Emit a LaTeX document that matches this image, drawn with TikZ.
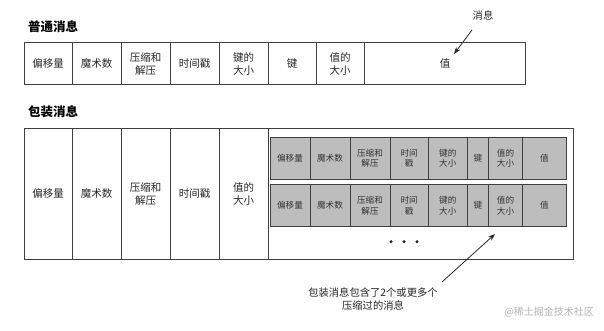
\documentclass[tikz,border=0pt]{standalone}
\usepackage{fontspec}
\setmainfont{Noto Sans CJK SC}
\usetikzlibrary{arrows.meta}
\tikzset{
  cell/.style={draw=black!75, line width=1pt, inner sep=0pt, align=center, font=\fontsize{10.5}{12.5}\selectfont, text=black!85},
  icell/.style={draw=black!75, line width=1pt, fill=black!26, inner sep=0pt, align=center, font=\fontsize{8.6}{10.5}\selectfont, text=black!80},
  title/.style={font=\fontsize{12.5}{14}\selectfont\bfseries, anchor=west, inner sep=0pt},
  note/.style={font=\fontsize{10.3}{13}\selectfont, align=center, inner sep=0pt, text=black!85},
  arr/.style={-{Stealth[length=7pt,width=5pt]}, line width=0.8pt, black!85}
}
\begin{document}
\begin{tikzpicture}[x=1pt,y=-1pt]
\useasboundingbox (0,0) rectangle (604,331);
% normal message
\node[title] (t1) at (28,27) {普通消息};
\node[cell, minimum width=48pt, minimum height=42pt] (a1) at (48,64) {偏移量};
\node[cell, minimum width=49pt, minimum height=42pt] (a2) at (96.5,64) {魔术数};
\node[cell, minimum width=49pt, minimum height=42pt] (a3) at (145.5,64) {压缩和\\解压};
\node[cell, minimum width=49pt, minimum height=42pt] (a4) at (194.5,64) {时间戳};
\node[cell, minimum width=49pt, minimum height=42pt] (a5) at (243.5,64) {键的\\大小};
\node[cell, minimum width=48pt, minimum height=42pt] (a6) at (292,64) {键};
\node[cell, minimum width=48pt, minimum height=42pt] (a7) at (340,64) {值的\\大小};
\node[cell, minimum width=161pt, minimum height=42pt] (a8) at (445,64) {值};
\node[note] (l1) at (483,16) {消息};
\coordinate (p1) at (472,30);
\coordinate (p2) at (454,54);
\draw[arr] (p1) -- (p2);
% wrapper message
\node[title] (t2) at (28,112) {包装消息};
\node[cell, minimum width=48pt, minimum height=130pt] (b1) at (48,194) {偏移量};
\node[cell, minimum width=49pt, minimum height=130pt] (b2) at (96.5,194) {魔术数};
\node[cell, minimum width=49pt, minimum height=130pt] (b3) at (145.5,194) {压缩和\\解压};
\node[cell, minimum width=49pt, minimum height=130pt] (b4) at (194.5,194) {时间戳};
\node[cell, minimum width=49pt, minimum height=130pt] (b5) at (243.5,194) {值的\\大小};
\node[cell, minimum width=305pt, minimum height=130pt] (b6) at (420.5,194) {};
% inner rows
\foreach \r/\yc in {1/158.3, 2/205.5}{
  \node[icell, minimum width=40pt, minimum height=42pt] (c\r1) at (290,\yc) {偏移量};
  \node[icell, minimum width=40pt, minimum height=42pt] (c\r2) at (330,\yc) {魔术数};
  \node[icell, minimum width=40pt, minimum height=42pt] (c\r3) at (370,\yc) {压缩和\\解压};
  \node[icell, minimum width=38.3pt, minimum height=42pt] (c\r4) at (409.15,\yc) {时间\\戳};
  \node[icell, minimum width=39pt, minimum height=42pt] (c\r5) at (447.8,\yc) {键的\\大小};
  \node[icell, minimum width=21.4pt, minimum height=42pt] (c\r6) at (478,\yc) {键};
  \node[icell, minimum width=33.6pt, minimum height=42pt] (c\r7) at (505.5,\yc) {值的\\大小};
  \node[icell, minimum width=44.4pt, minimum height=42pt] (c\r8) at (544.5,\yc) {值};
}
\foreach \x in {391,404,417}{
  \fill[black!85] (\x,241.7) circle (1.7pt);
}
\node[note] (l2) at (373,299.5) {包装消息包含了2个或更多个\\压缩过的消息};
\coordinate (q1) at (442,282);
\coordinate (q2) at (495,234);
\draw[arr] (q1) -- (q2);
\node[font=\fontsize{10}{12}\selectfont, text=black!30, anchor=east, inner sep=0pt] (wm) at (594,312) {@稀土掘金技术社区};
\end{tikzpicture}
\end{document}
